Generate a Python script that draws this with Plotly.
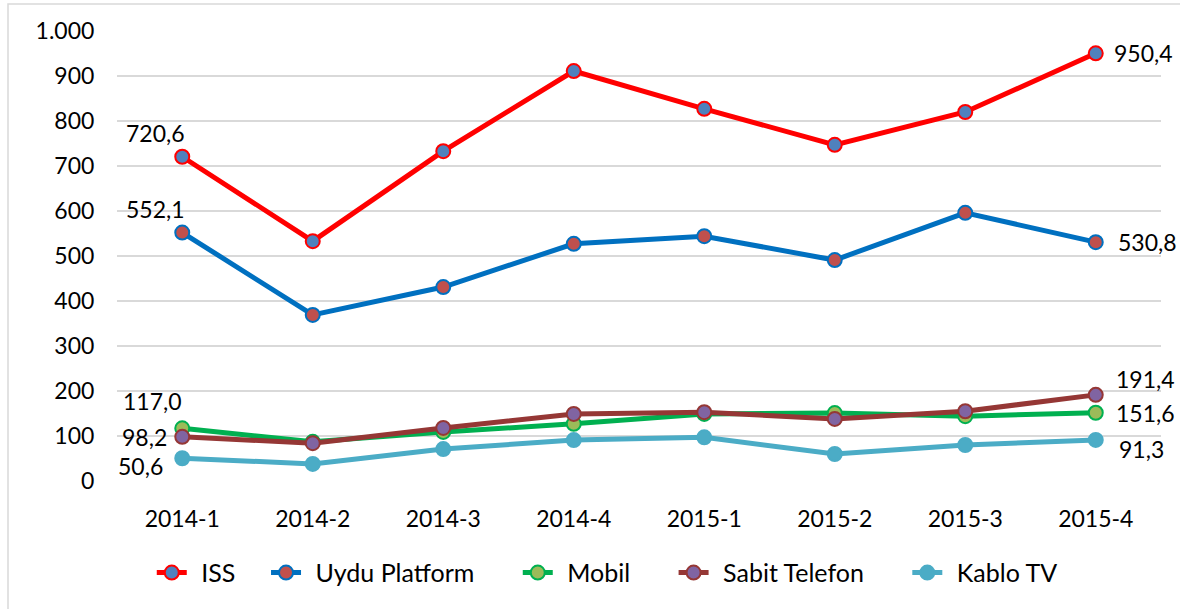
import plotly.graph_objects as go

categories = ["2014-1", "2014-2", "2014-3", "2014-4", "2015-1", "2015-2", "2015-3", "2015-4"]
iss = [720.6, 533, 733, 911, 827, 747, 820, 950.4]
uydu = [552.1, 369, 431, 527, 544, 491, 596, 530.8]
mobil = [117.0, 87, 109, 127, 149, 151, 144, 151.6]
sabit = [98.2, 84, 118, 149, 153, 138, 155, 191.4]
kablo = [50.6, 38, 71, 91, 97, 60, 80, 91.3]
series_names = ["ISS", "Uydu Platform", "Mobil", "Sabit Telefon", "Kablo TV"]

styles = [
    ("#FF0000", "#4F81BD", "#FF0000"),
    ("#0070C0", "#C0504D", "#0070C0"),
    ("#00B050", "#9BBB59", "#00B050"),
    ("#953735", "#8064A2", "#953735"),
    ("#4BACC6", "#4BACC6", "#4BACC6"),
]
all_vals = [iss, uydu, mobil, sabit, kablo]
trail_counts = [4, 6, 6, 6, 0]

FONT = "Lato"
NB = "\u00a0"
fig = go.Figure()
for name, vals, (lc, mf, ml), tc in zip(series_names, all_vals, styles, trail_counts):
    lead = NB + "\u2009"
    fig.add_trace(go.Scatter(
        x=categories, y=vals, name=lead + name + NB * tc, mode="lines+markers",
        line=dict(color=lc, width=5),
        marker=dict(size=14, color=mf, line=dict(color=ml, width=2)),
    ))

def fmt(v):
    return f"{v:.1f}".replace(".", ",")

lab_font = dict(family=FONT, size=23, color="#000000")
# labels at first point: (values, xanchor, xshift, yshift)
first_labels = [
    (iss, "center", -27, 24),
    (uydu, "center", -27, 24),
    (mobil, "center", -30, 27),
    (sabit, "right", -13, 0),
    (kablo, "right", -17, -8),
]
for vals, anchor, dx, dy in first_labels:
    fig.add_annotation(x=categories[0], y=vals[0], text=fmt(vals[0]),
                       showarrow=False, xanchor=anchor, yanchor="middle",
                       xshift=dx, yshift=dy, font=lab_font)
last_labels = [
    (iss, 16, 0),
    (uydu, 20, 0),
    (sabit, 18, 16),
    (mobil, 18, 0),
    (kablo, 21, -9),
]
for vals, dx, dy in last_labels:
    fig.add_annotation(x=categories[-1], y=vals[-1], text=fmt(vals[-1]),
                       showarrow=False, xanchor="left", yanchor="middle",
                       xshift=dx, yshift=dy, font=lab_font)

fig.update_layout(
    width=1180, height=609,
    margin=dict(l=117, r=19, t=31, b=128),
    paper_bgcolor="white", plot_bgcolor="white",
    font=dict(family=FONT, size=23, color="#000000"),
    showlegend=True,
    legend=dict(orientation="h", x=0.4696, xanchor="center", y=-0.204, yanchor="middle",
                font=dict(family=FONT, size=25), itemwidth=30),
    xaxis=dict(type="category", showgrid=False, showline=False, zeroline=False,
               ticks="outside", ticklen=17, tickcolor="rgba(0,0,0,0)",
               range=[-0.5, 7.5], tickfont=dict(family=FONT, size=23)),
    yaxis=dict(range=[0, 1000], dtick=100, showgrid=True, gridcolor="#D9D9D9", gridwidth=1.5,
               zeroline=False, showline=False, tickformat=",d",
               ticks="outside", ticklen=17,
               tickcolor="rgba(0,0,0,0)", tickfont=dict(family=FONT, size=23)),
    separators=",.",
    shapes=[
        dict(type="rect", xref="paper", yref="paper", x0=(8 - 117) / 1044, x1=1.2,
             y0=-0.4, y1=(481 - 4) / 450, line=dict(color="#D9D9D9", width=1.5),
             fillcolor="rgba(0,0,0,0)", layer="below"),
    ],
)
fig.write_html("out.html", config={"displayModeBar": False},
               post_script="document.body.style.margin='0';")
